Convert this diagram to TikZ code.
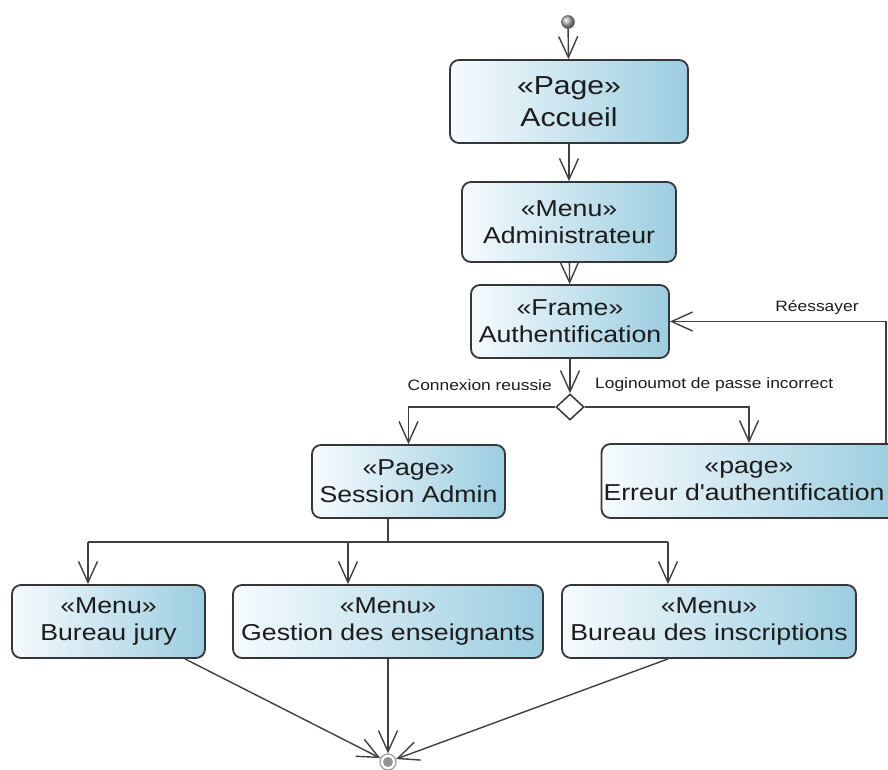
\documentclass[tikz,border=0pt]{standalone}
\usepackage{fontspec}
\setmainfont{Liberation Sans}[FakeStretch=1.16, Ligatures=TeXOff]
\usetikzlibrary{arrows.meta,shapes.geometric}

\definecolor{ink}{HTML}{1C1C1C}
\definecolor{edgegray}{HTML}{404040}
\definecolor{frame}{HTML}{363636}
\definecolor{fillL}{HTML}{F6FBFD}
\definecolor{fillR}{HTML}{9CCDE0}

\begin{document}
\begin{tikzpicture}[x=1pt,y=-1pt,
  state/.style={draw=frame, line width=1.8pt, rounded corners=9pt,
    left color=fillL, right color=fillR, text=ink, align=center,
    inner sep=0pt, font=\fontsize{23}{27}\selectfont},
  bigstate/.style={state, font=\fontsize{26}{32}\selectfont},
  wire/.style={draw=edgegray, line width=1.4pt},
  flow/.style={wire, -{Straight Barb[length=21pt,width=19pt]}},
  lbl/.style={text=ink, inner sep=0pt, font=\fontsize{15}{18}\selectfont}
]
\clip (0,0) rectangle (888,769);
\fill[white] (0,0) rectangle (888,769);

% initial and final pseudo-states
\node[circle, inner sep=0pt, minimum size=13pt, ball color=gray!60, draw=gray!80!black, line width=0.6pt] (start) at (568,22) {};
\node[circle, inner sep=0pt, minimum size=16pt, draw=gray!75, line width=1.3pt, fill=white] (end) at (388,762) {};
\fill[gray!85] (end.center) circle [radius=5pt];

% main column
\node[bigstate, minimum width=238pt, minimum height=83pt] (accueil) at (569,101.5) {«Page»\\Accueil};
\node[state, minimum width=214pt, minimum height=80pt] (admin) at (569,222) {«Menu»\\Administrateur};
\node[state, minimum width=198pt, minimum height=73pt] (auth) at (570,321.5) {«Frame»\\Authentification};
\node[diamond, aspect=1.08, draw=frame, fill=white, line width=1.5pt, inner sep=0pt,
      minimum width=28pt, minimum height=26pt] (choice) at (570,407) {};

% branches after the decision
\node[state, minimum width=193pt, minimum height=73pt] (session) at (408.5,481.5) {«Page»\\Session Admin};
\node[state, minimum width=295pt, minimum height=74pt] (erreur) at (749,481) {«page»\\Erreur d'authentification\hspace*{10pt}};

% menus
\node[state, minimum width=193pt, minimum height=73pt] (jury) at (108.5,621.5) {«Menu»\\Bureau jury};
\node[state, minimum width=310pt, minimum height=73pt] (gestion) at (388,621.5) {«Menu»\\Gestion des enseignants};
\node[state, minimum width=294pt, minimum height=73pt] (inscr) at (709,621.5) {«Menu»\\Bureau des inscriptions};

% guard labels
\node[lbl, anchor=east] (okLbl) at (552,385) {Connexion reussie};
\node[lbl, anchor=west] (koLbl) at (595,385) {Loginoumot de passe incorrect};
\node[lbl] (retryLbl) at (817,308) {Réessayer};

% flow
\draw[flow] (start) -- (accueil);
\draw[flow] (accueil) -- (admin);
\draw[flow] (admin) -- (auth);
\draw[flow] (auth) -- (choice);
\draw[flow] (choice.west) -| (session.north);
\draw[flow] (choice.east) -| (erreur.north);
\coordinate (retry) at (886,322);
\draw[flow] (erreur.north -| retry) |- (auth.east);

% fork to the three menus
\coordinate (fork) at (388,542);
\coordinate (forkL) at (88,542);
\coordinate (forkM) at (348,542);
\coordinate (forkR) at (668,542);
\draw[wire] (session.south -| fork) -- (fork);
\draw[wire] (forkL) -- (forkR);
\draw[flow] (forkL) -- (jury.north -| forkL);
\draw[flow] (forkM) -- (gestion.north -| forkM);
\draw[flow] (forkR) -- (inscr.north -| forkR);

% menus to the final state
\draw[flow] (jury.south -| 185,0) -- (end);
\draw[flow] (gestion.south) -- (end);
\draw[flow] (inscr.south -| 668,0) -- (end);
\end{tikzpicture}
\end{document}
